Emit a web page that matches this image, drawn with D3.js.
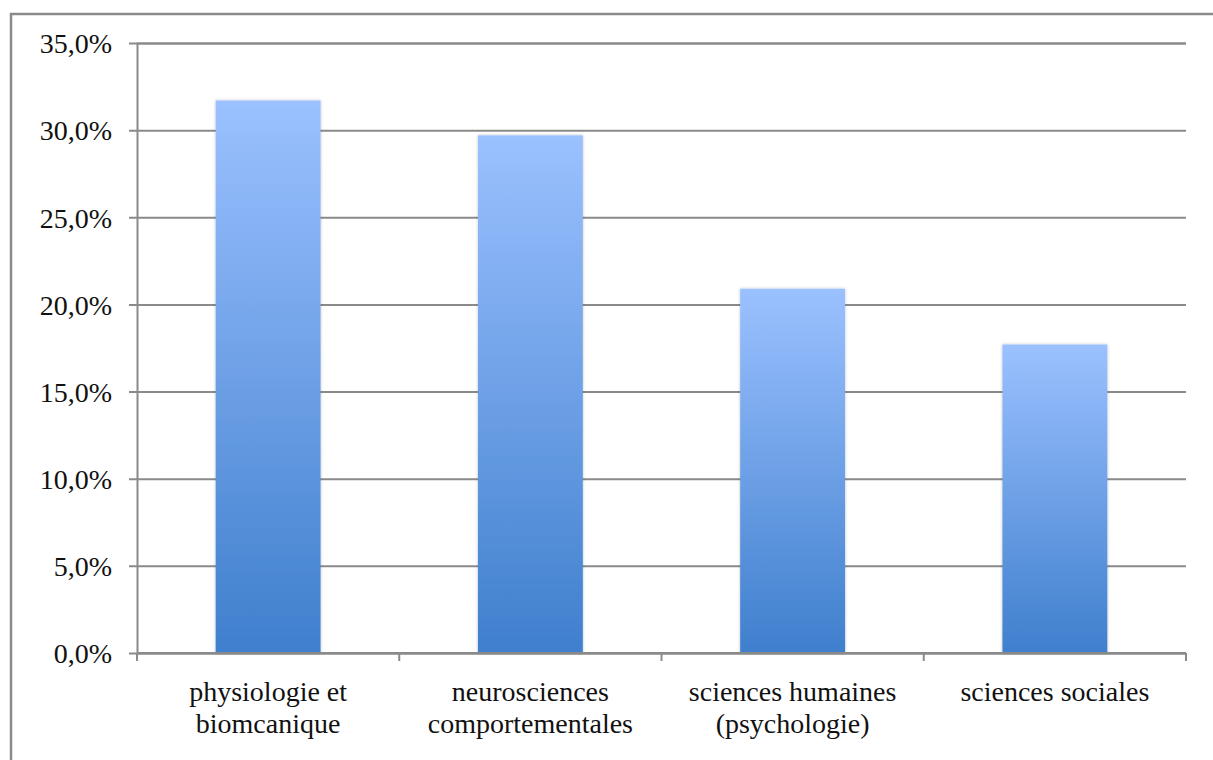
<!DOCTYPE html>
<html><head><meta charset="utf-8">
<script src="https://cdn.jsdelivr.net/npm/d3@7"></script>
<style>html,body{margin:0;padding:0;background:#fff;overflow:hidden}</style>
</head><body>
<svg id="chart" width="1213" height="760"></svg>
<script>
const categories = [["physiologie et","biomcanique"],["neurosciences","comportementales"],["sciences humaines","(psychologie)"],["sciences sociales"]];
const values = [0.317, 0.297, 0.209, 0.177];
const yTicks = [0, 0.05, 0.10, 0.15, 0.20, 0.25, 0.30, 0.35];

const svg = d3.select("#chart");
const font = "'Liberation Serif', 'DejaVu Serif', serif";

// outer frame
svg.append("rect").attr("x",11).attr("y",14).attr("width",1220).attr("height",800)
  .attr("fill","none").attr("stroke","#8a8a8a").attr("stroke-width",2.5);

const pLeft = 137, pRight = 1186, pTop = 43, pBottom = 653;
const x = d3.scaleBand().domain(categories.map((d,i)=>i)).range([pLeft,pRight]).paddingInner(0.6).paddingOuter(0.3);
const y = d3.scaleLinear().domain([0,0.35]).range([pBottom,pTop]);

const defs = svg.append("defs");
const grad = defs.append("linearGradient").attr("id","barGrad").attr("x1",0).attr("y1",0).attr("x2",0).attr("y2",1);
grad.append("stop").attr("offset","0%").attr("stop-color","#9bc1ff");
grad.append("stop").attr("offset","100%").attr("stop-color","#3f7fcd");
const flt = defs.append("filter").attr("id","shadow").attr("x","-10%").attr("y","-5%").attr("width","120%").attr("height","110%");
flt.append("feDropShadow").attr("dx",0).attr("dy",0).attr("stdDeviation",1.5).attr("flood-color","#000").attr("flood-opacity",0.25);

// gridlines + y axis
const yAxis = d3.axisLeft(y).tickValues(yTicks).tickSize(-(pRight-pLeft)).tickPadding(17)
  .tickFormat(d => d3.format(".1f")(d*100).replace(".", ",") + "%");
const gy = svg.append("g").attr("transform",`translate(${pLeft},0)`).call(yAxis);
gy.select(".domain").attr("stroke","#8a8a8a").attr("stroke-width",2);
gy.selectAll(".tick line").attr("stroke","#8a8a8a").attr("stroke-width",2).attr("x1",-8);
gy.selectAll(".tick text").attr("font-family",font).attr("font-size",28).attr("fill","#111").attr("dy","0.35em").attr("x",-25);

// bars
svg.append("g").selectAll("rect").data(values).join("rect")
  .attr("x",(d,i)=>x(i)).attr("y",d=>y(d)).attr("width",x.bandwidth()).attr("height",d=>pBottom-y(d))
  .attr("fill","url(#barGrad)").attr("filter","url(#shadow)");

// x axis
const boundaries = d3.range(categories.length+1).map(i => pLeft + i*(pRight-pLeft)/categories.length);
const gx = svg.append("g");
gx.append("line").attr("x1",pLeft).attr("x2",pRight).attr("y1",pBottom).attr("y2",pBottom).attr("stroke","#8a8a8a").attr("stroke-width",2);
gx.selectAll("line.tk").data(boundaries).join("line").attr("class","tk")
  .attr("x1",d=>d).attr("x2",d=>d).attr("y1",pBottom).attr("y2",pBottom+8).attr("stroke","#8a8a8a").attr("stroke-width",2);
const lbl = svg.append("g").selectAll("text").data(categories).join("text")
  .attr("x",(d,i)=>x(i)+x.bandwidth()/2).attr("y",701)
  .attr("text-anchor","middle").attr("font-family",font).attr("font-size",28).attr("fill","#111");
lbl.each(function(d){
  const t = d3.select(this);
  d.forEach((line,j)=>t.append("tspan").attr("x",t.attr("x")).attr("dy", j===0?0:32).text(line));
});
</script>
</body></html>
